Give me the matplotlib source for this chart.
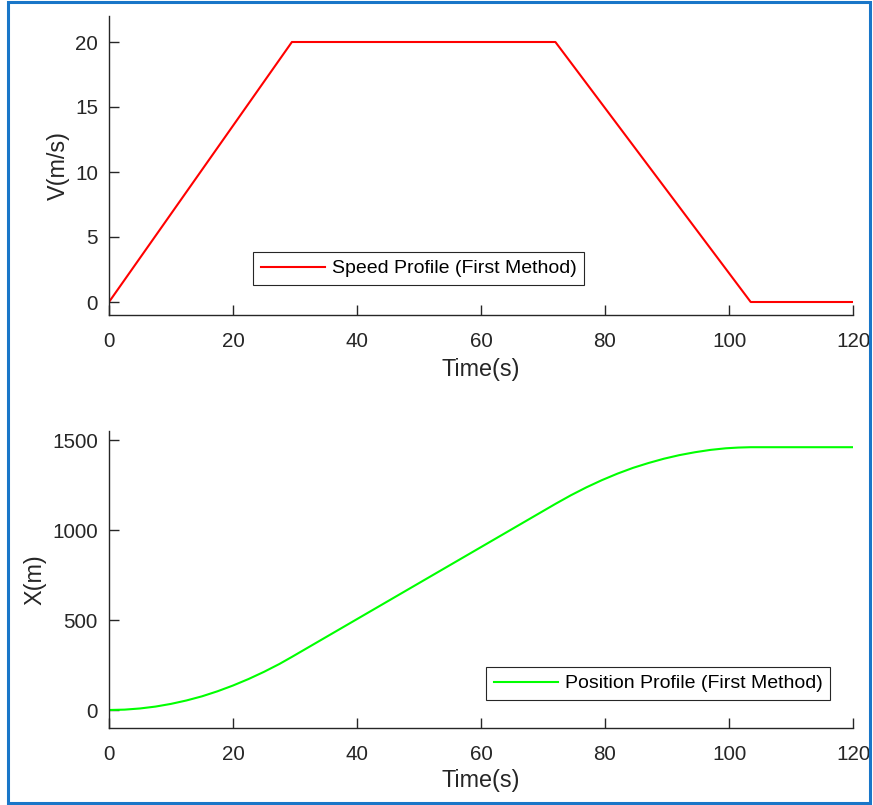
import matplotlib
matplotlib.use("Agg")
import matplotlib.pyplot as plt
from matplotlib.patches import Rectangle

# Speed profile
t_speed = [0, 29.5, 72, 103.5, 120]
v_speed = [0, 20, 20, 0, 0]

# Position profile
t_pos = [0, 2.5, 5, 7.5, 10, 12.5, 15, 17.5, 20, 22.5, 25, 27.5, 29.5,
         35, 40, 45, 50, 55, 60, 65, 70, 72,
         74.5, 77, 79.5, 82, 84.5, 87, 89.5, 92, 94.5, 97, 99.5, 101.5,
         103.5, 110, 120]
x_pos = [0, 2, 8.5, 19, 34, 53, 76, 104, 136, 172, 212, 256, 295,
         405, 505, 605, 705, 805, 905, 1005, 1105, 1145,
         1193, 1237, 1277, 1313, 1345, 1372, 1396, 1416, 1432, 1445, 1454, 1458,
         1460, 1460, 1460]

x_ticks = [0, 20, 40, 60, 80, 100, 120]
v_ticks = [0, 5, 10, 15, 20]
p_ticks = [0, 500, 1000, 1500]

plt.rcParams['font.family'] = ['Liberation Sans', 'DejaVu Sans']
AX = '#262626'

W, H = 873, 805
fig = plt.figure(figsize=(W / 100, H / 100), dpi=100)

def pos(l, t, r, b):
    return [l / W, 1 - b / H, (r - l) / W, (b - t) / H]

def style(ax):
    for s in ['top', 'right']:
        ax.spines[s].set_visible(False)
    for s in ['left', 'bottom']:
        ax.spines[s].set_color(AX)
        ax.spines[s].set_linewidth(1.0)
    ax.tick_params(direction='in', length=7, width=1.0, colors=AX,
                   labelsize=14.9, labelcolor=AX)
    ax.tick_params(axis='y', pad=8)
    ax.tick_params(axis='x', pad=12)

ax1 = fig.add_axes(pos(109, 16, 853, 315))
ax1.plot(t_speed, v_speed, color='#ff0000', lw=1.5,
         label='Speed Profile (First Method)')
ax1.set_xlim(0, 120)
ax1.set_ylim(-1, 22)
ax1.set_xticks(x_ticks)
ax1.set_yticks(v_ticks)
style(ax1)
ax1.set_xlabel('Time(s)', fontsize=16.8, color=AX, labelpad=5)
ax1.set_ylabel('V(m/s)', fontsize=16.8, color=AX, labelpad=3.5)
leg1 = ax1.legend(loc='upper left', bbox_to_anchor=(0.1935, 0.2107),
                  borderaxespad=0, fancybox=False, framealpha=1,
                  edgecolor=AX, fontsize=14, handlelength=3.3,
                  handletextpad=0.35, borderpad=0.4)
leg1.get_frame().set_linewidth(0.8)

ax2 = fig.add_axes(pos(109, 431, 853, 728))
ax2.plot(t_pos, x_pos, color='#00ff00', lw=1.5,
         label='Position Profile (First Method)')
ax2.set_xlim(0, 120)
ax2.set_ylim(-100, 1550)
ax2.set_xticks(x_ticks)
ax2.set_yticks(p_ticks)
style(ax2)
ax2.set_xlabel('Time(s)', fontsize=16.8, color=AX, labelpad=4)
ax2.set_ylabel('X(m)', fontsize=16.8, color=AX, labelpad=4)
leg2 = ax2.legend(loc='upper left', bbox_to_anchor=(0.5067, 0.2054),
                  borderaxespad=0, fancybox=False, framealpha=1,
                  edgecolor=AX, fontsize=14, handlelength=3.3,
                  handletextpad=0.35, borderpad=0.4)
leg2.get_frame().set_linewidth(0.8)

# blue frame around the figure
fig.patches.append(Rectangle((8 / W, 2 / H), (870 - 8) / W, (803 - 2) / H,
                             transform=fig.transFigure, fill=False,
                             edgecolor='#1976c8', lw=2.2))

fig.savefig('out.png', dpi=100)
